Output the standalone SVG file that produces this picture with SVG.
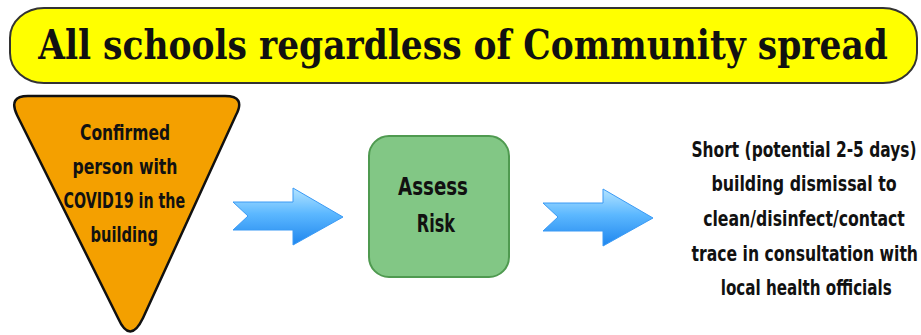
<svg xmlns="http://www.w3.org/2000/svg" width="921" height="335" viewBox="0 0 921 335">
<defs>
<style>
.t{font-family:"DejaVu Sans","Liberation Sans",sans-serif;font-weight:bold;fill:#111;text-anchor:middle}
.title{font-family:"DejaVu Serif","Liberation Serif",serif;font-weight:bold;fill:#111;text-anchor:middle}
</style>
<linearGradient id="ag" x1="0" y1="0" x2="0" y2="1">
<stop offset="0" stop-color="#b5e4ff"/>
<stop offset="0.45" stop-color="#5cb8ff"/>
<stop offset="1" stop-color="#1f86ee"/>
</linearGradient>
<path id="arrow" d="M0,14 L60,14 L60,0 L110,29 L60,57 L60,42 L0,42 L15,28 Z"/>
</defs>
<rect width="921" height="335" fill="#fff"/>
<g id="banner">
<rect x="10" y="8" width="907" height="75" rx="34" ry="30" fill="#ffff00" stroke="#333" stroke-width="2"/>
<g transform="translate(463,59) scale(0.8,1)">
<text class="title" x="0" y="0" font-size="41" textLength="1062" lengthAdjust="spacingAndGlyphs">All schools regardless of Community spread</text>
</g>
</g>
<g id="confirmed">
<path d="M28,96 L225,96 Q246,96 236,115 L143,318 Q130,345 118,318 L17,115 Q8,96 28,96 Z" fill="#f4a000" stroke="#111" stroke-width="2.5"/>
<g transform="translate(125,0) scale(0.72,1)" font-size="22">
<text class="t" x="0" y="140" textLength="125" lengthAdjust="spacingAndGlyphs">Confirmed</text>
<text class="t" x="0" y="174" textLength="146" lengthAdjust="spacingAndGlyphs">person with</text>
<text class="t" x="-1" y="208" textLength="169" lengthAdjust="spacingAndGlyphs">COVID19 in the</text>
<text class="t" x="-1" y="242" textLength="94" lengthAdjust="spacingAndGlyphs">building</text>
</g>
</g>
<g id="assess">
<rect x="369" y="136" width="140" height="141" rx="20" fill="#82c785" stroke="#4f9a50" stroke-width="2"/>
<g transform="translate(433,0) scale(0.72,1)" font-size="25">
<text class="t" x="0" y="195" textLength="97" lengthAdjust="spacingAndGlyphs">Assess</text>
<text class="t" x="4" y="232" textLength="53" lengthAdjust="spacingAndGlyphs">Risk</text>
</g>
</g>
<g id="dismissal">
<g transform="translate(804,0) scale(0.75,1)" font-size="21">
<text class="t" x="0" y="157" textLength="300" lengthAdjust="spacingAndGlyphs">Short (potential 2-5 days)</text>
<text class="t" x="0" y="191" textLength="247" lengthAdjust="spacingAndGlyphs">building dismissal to</text>
<text class="t" x="0" y="226" textLength="269" lengthAdjust="spacingAndGlyphs">clean/disinfect/contact</text>
<text class="t" x="1" y="261" textLength="302" lengthAdjust="spacingAndGlyphs">trace in consultation with</text>
<text class="t" x="3" y="295" textLength="228" lengthAdjust="spacingAndGlyphs">local health officials</text>
</g>
</g>
<g id="connectors">
<use href="#arrow" x="233" y="188" fill="url(#ag)" stroke="#3a9af5" stroke-width="1"/>
<use href="#arrow" x="543" y="189" fill="url(#ag)" stroke="#3a9af5" stroke-width="1"/>
</g>
</svg>
